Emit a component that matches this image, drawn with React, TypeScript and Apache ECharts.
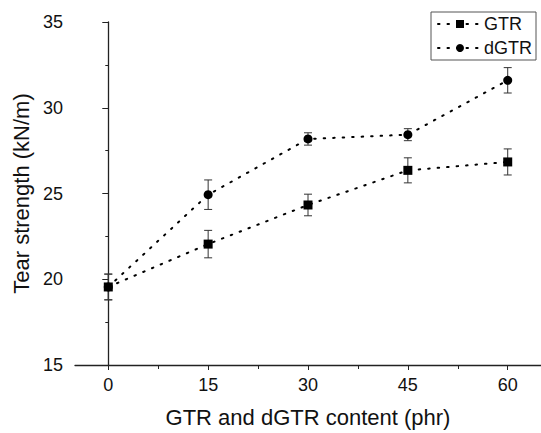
import React, { useEffect, useRef } from "react";
import * as echarts from "echarts";

const xValues = [0, 15, 30, 45, 60];
const gtrValues = [19.55, 22.05, 24.33, 26.35, 26.84];
const gtrErrors = [0.75, 0.8, 0.63, 0.73, 0.76];
const dgtrValues = [19.55, 24.93, 28.18, 28.43, 31.6];
const dgtrErrors = [0.75, 0.86, 0.36, 0.35, 0.74];
const xMajorTicks = [0, 15, 30, 45, 60];
const xMinorTicks = [7.5, 22.5, 37.5, 52.5];

const FONT = "'Liberation Sans', Arial, sans-serif";
const TEXT = "#111";

function errorSeries(values: number[], errors: number[], z: number) {
  return {
    type: "custom",
    z,
    silent: true,
    data: xValues.map((x, i) => [x, values[i] - errors[i], values[i] + errors[i]]),
    renderItem: (params: any, api: any) => {
      const x = api.value(0);
      const lo = api.coord([x, api.value(1)]);
      const hi = api.coord([x, api.value(2)]);
      const cap = 4;
      const style = { stroke: "#333", lineWidth: 1 };
      return {
        type: "group",
        children: [
          { type: "line", shape: { x1: lo[0], y1: lo[1], x2: hi[0], y2: hi[1] }, style },
          { type: "line", shape: { x1: lo[0] - cap, y1: lo[1], x2: lo[0] + cap, y2: lo[1] }, style },
          { type: "line", shape: { x1: hi[0] - cap, y1: hi[1], x2: hi[0] + cap, y2: hi[1] }, style },
        ],
      };
    },
  };
}

export default function App() {
  const ref = useRef<HTMLDivElement>(null);
  useEffect(() => {
    if (!ref.current) return;
    const chart = echarts.init(ref.current, undefined, { renderer: "svg" });
    const axisLine = { show: true, lineStyle: { color: "#222", width: 1.3 } };
    chart.setOption({
      animation: false,
      backgroundColor: "#fff",
      textStyle: { fontFamily: FONT },
      grid: { left: 75, top: 22, right: 0, bottom: 65, containLabel: false },
      legend: {
        left: 431,
        top: 12,
        orient: "vertical",
        padding: [3, 4, 3, 6],
        itemWidth: 44,
        itemHeight: 10,
        itemGap: 6,
        borderColor: "#555",
        borderWidth: 1,
        textStyle: { fontSize: 18, color: TEXT, fontFamily: FONT, padding: [0, 0, 0, -3] },
        data: ["GTR", "dGTR"],
      },
      xAxis: [
        {
          type: "value",
          min: -5,
          max: 65,
          position: "bottom",
          axisLine,
          splitLine: { show: false },
          axisTick: { show: true, customValues: xMajorTicks, length: 5, lineStyle: { color: "#222" } },
          axisLabel: { customValues: xMajorTicks, fontSize: 18, color: TEXT, margin: 11, fontFamily: FONT },
          name: "GTR and dGTR content (phr)",
          nameLocation: "middle",
          nameGap: 41,
          nameTextStyle: { fontSize: 22, color: TEXT, fontFamily: FONT },
        },
        {
          type: "value",
          min: -5,
          max: 65,
          position: "bottom",
          offset: 0,
          axisLine: { show: false },
          splitLine: { show: false },
          axisTick: { show: true, customValues: xMinorTicks, length: 4, lineStyle: { color: "#222" } },
          axisLabel: { show: false },
        },
      ],
      yAxis: {
        type: "value",
        min: 15,
        max: 35,
        interval: 5,
        axisLine,
        splitLine: { show: false },
        axisTick: { show: true, length: 6, lineStyle: { color: "#222" } },
        minorTick: { show: true, splitNumber: 2, length: 3, lineStyle: { color: "#222" } },
        axisLabel: { fontSize: 18, color: TEXT, margin: 12, fontFamily: FONT },
        name: "Tear strength (kN/m)",
        nameLocation: "middle",
        nameGap: 42,
        nameTextStyle: { fontSize: 22, color: TEXT, fontFamily: FONT },
      },
      series: [
        errorSeries(dgtrValues, dgtrErrors, 1),
        errorSeries(gtrValues, gtrErrors, 1),
        {
          name: "dGTR",
          type: "line",
          z: 2,
          data: xValues.map((x, i) => [x, dgtrValues[i]]),
          symbol: "circle",
          symbolSize: 9,
          itemStyle: { color: "#000" },
          lineStyle: { color: "#000", width: 2, type: [1.5, 8], cap: "round" },
        },
        {
          name: "GTR",
          type: "line",
          z: 3,
          data: xValues.map((x, i) => [x, gtrValues[i]]),
          symbol: "rect",
          symbolSize: 9,
          itemStyle: { color: "#000" },
          lineStyle: { color: "#000", width: 2, type: [1.5, 8], cap: "round" },
        },
      ],
    });
    return () => chart.dispose();
  }, []);
  return <div ref={ref} style={{ width: 541, height: 433, position: "absolute", left: 0, top: 0 }} />;
}
